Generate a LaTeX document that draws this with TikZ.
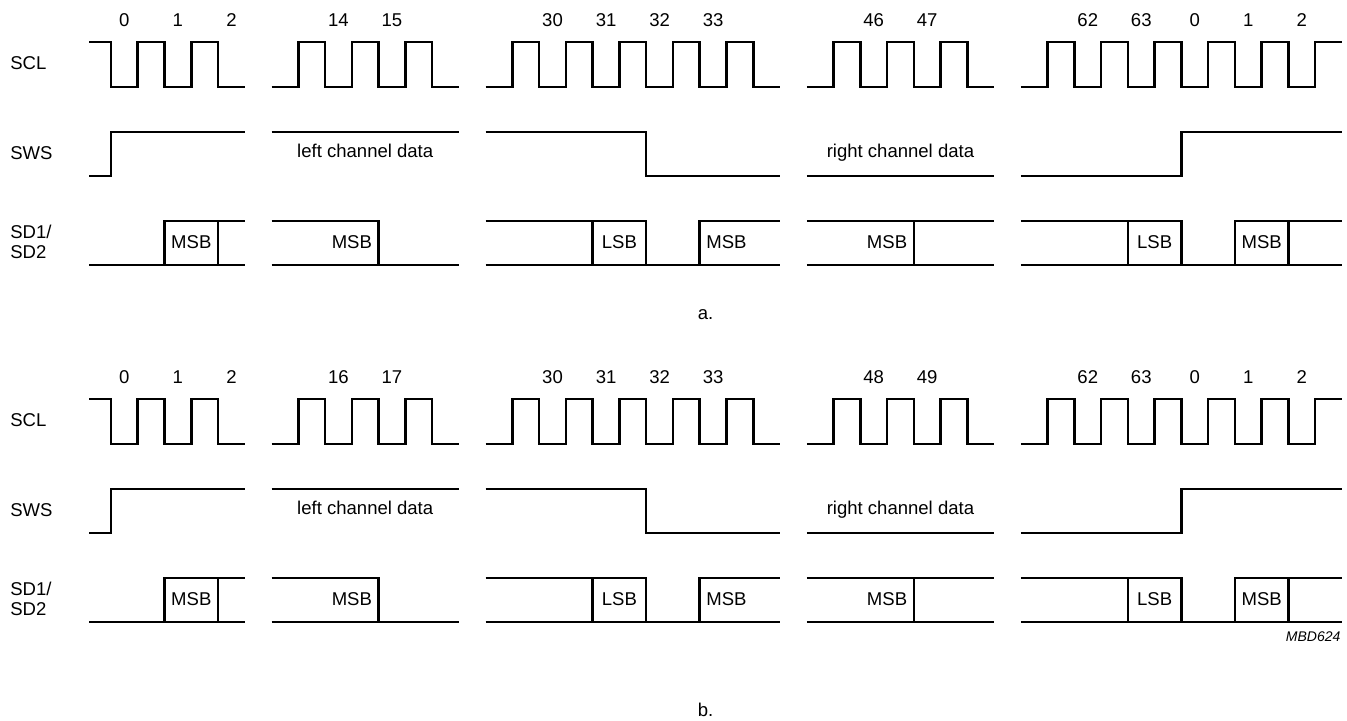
\documentclass[tikz,border=0pt]{standalone}
\usepackage{fontspec}
\setmainfont{Liberation Sans}
\usepackage{tikz}
\tikzset{
  wave/.style={black, line width=1.9pt},
  tick/.style={font=\fontsize{13.9}{16}\selectfont, inner sep=0pt, anchor=base},
  signame/.style={font=\fontsize{13.9}{15}\selectfont, inner sep=0pt, anchor=west, align=left},
  figcode/.style={font=\fontsize{10.5}{12}\selectfont\itshape, inner sep=0pt, anchor=east}
}

\begin{document}
\begin{tikzpicture}[x=20.07pt, y=-0.75pt]
  \useasboundingbox (-4.148,0) rectangle (46.188,720);
  \foreach \off/\pa/\pb/\pc/\pd/\fig in {0/14/15/46/47/a, 357/16/17/48/49/b}{
    \begin{scope}[shift={(0,\off)}]
      % signal names
      \node[signame] (scl-\fig) at (-3.774,63) {SCL};
      \node[signame] (sws-\fig) at (-3.774,153) {SWS};
      \node[signame] (sd-\fig) at (-3.774,242) {SD1/\\SD2};
      % bit numbers
      \foreach \k/\n [count=\i] in {0.5/0, 2.5/1, 4.5/2, 8.5/\pa, 10.5/\pb, 16.5/30, 18.5/31, 20.5/32, 22.5/33, 28.5/\pc, 30.5/\pd, 36.5/62, 38.5/63, 40.5/0, 42.5/1, 44.5/2}
        \node[tick] (bit-\fig-\i) at (\k,26.5) {\n};
      % SCL
      \draw[wave] (-0.82,42) \foreach \f in {0,2} { -- (\f,42) -- (\f,87) -- (\f+1,87) -- (\f+1,42) } -- (4,42) -- (4,87) -- (5,87);
      \draw[wave] (6,87) \foreach \r in {7,9,11} { -- (\r,87) -- (\r,42) -- (\r+1,42) -- (\r+1,87) } -- (13,87);
      \draw[wave] (14,87) \foreach \r in {15,17,19,21,23} { -- (\r,87) -- (\r,42) -- (\r+1,42) -- (\r+1,87) } -- (25,87);
      \draw[wave] (26,87) \foreach \r in {27,29,31} { -- (\r,87) -- (\r,42) -- (\r+1,42) -- (\r+1,87) } -- (33,87);
      \draw[wave] (34,87) \foreach \r in {35,37,39,41,43} { -- (\r,87) -- (\r,42) -- (\r+1,42) -- (\r+1,87) } -- (45,87) -- (45,42) -- (46,42);
      % SWS
      \draw[wave] (-0.82,176) -- (0,176) -- (0,132) -- (5,132);
      \draw[wave] (6,132) -- (13,132);
      \draw[wave] (14,132) -- (20,132) -- (20,176) -- (25,176);
      \draw[wave] (26,176) -- (33,176);
      \draw[wave] (34,176) -- (40,176) -- (40,132) -- (46,132);
      \node[tick] (left-\fig) at (9.5,157.5) {left channel data};
      \node[tick] (right-\fig) at (29.5,157.5) {right channel data};
      % SD1/SD2
      \draw[wave] (-0.82,265) -- (5,265);
      \draw[wave] (2,265) -- (2,221) -- (5,221);
      \draw[wave] (4,221) -- (4,265);
      \node[tick] (msba-\fig) at (3,248) {MSB};
      \draw[wave] (6,265) -- (13,265);
      \draw[wave] (6,221) -- (10,221) -- (10,265);
      \node[tick] (msbb-\fig) at (9,248) {MSB};
      \draw[wave] (14,265) -- (25,265);
      \draw[wave] (14,221) -- (20,221) -- (20,265);
      \draw[wave] (18,221) -- (18,265);
      \node[tick] (lsba-\fig) at (19,248) {LSB};
      \draw[wave] (22,265) -- (22,221) -- (25,221);
      \node[tick] (msbc-\fig) at (23,248) {MSB};
      \draw[wave] (26,265) -- (33,265);
      \draw[wave] (26,221) -- (33,221);
      \draw[wave] (30,221) -- (30,265);
      \node[tick] (msbd-\fig) at (29,248) {MSB};
      \draw[wave] (34,265) -- (46,265);
      \draw[wave] (34,221) -- (40,221) -- (40,265);
      \draw[wave] (38,221) -- (38,265);
      \node[tick] (lsbb-\fig) at (39,248) {LSB};
      \draw[wave] (42,265) -- (42,221) -- (46,221);
      \draw[wave] (44,221) -- (44,265);
      \node[tick] (msbe-\fig) at (43,248) {MSB};
    \end{scope}
  }
  \node[tick] (cap-a) at (22.22,319) {a.};
  \node[tick] (cap-b) at (22.22,716.5) {b.};
  \node[figcode] (code) at (45.95,636.7) {MBD624};
\end{tikzpicture}
\end{document}
